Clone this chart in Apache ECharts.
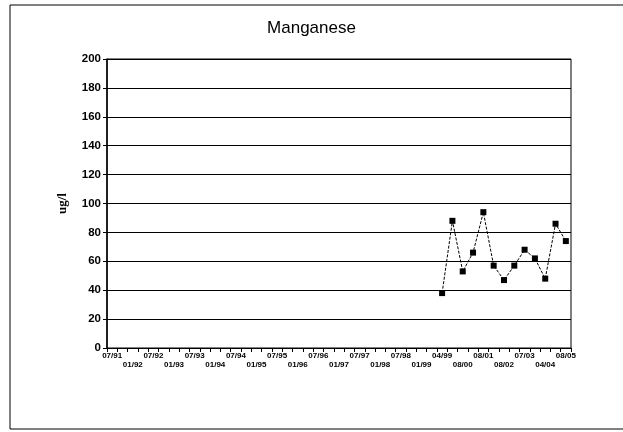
<!DOCTYPE html>
<html>
<head>
<meta charset="utf-8">
<script src="https://cdn.jsdelivr.net/npm/echarts@6/dist/echarts.min.js"></script>
<style>html,body{margin:0;padding:0;background:#fff}#c{width:623px;height:432px}</style>
</head>
<body>
<div id="c"></div>
<script>
const categories = ["07/91","10/91","01/92","04/92","07/92","10/92","01/93","04/93","07/93","10/93",
  "01/94","04/94","07/94","10/94","01/95","04/95","07/95","10/95","01/96","04/96",
  "07/96","10/96","01/97","04/97","07/97","10/97","01/98","04/98","07/98","10/98",
  "01/99","02/99","04/99","01/00","08/00","02/01","08/01","02/02","08/02","01/03",
  "07/03","11/03","04/04","12/04","08/05"];
const manganese = [null,null,null,null,null,null,null,null,null,null,
  null,null,null,null,null,null,null,null,null,null,
  null,null,null,null,null,null,null,null,null,null,
  null,null,38,88,53,66,94,57,47,57,
  68,62,48,86,74];
const yTicks = {min:0, max:200, interval:20};

const chart = echarts.init(document.getElementById('c'), null, {renderer:'canvas'});
chart.setOption({
  animation:false,
  backgroundColor:'#fff',
  title:{text:'Manganese', left:'center', top:15,
    textStyle:{fontFamily:'Liberation Sans, Arial', fontSize:17, fontWeight:'normal', color:'#000'}},
  graphic:[{type:'rect', shape:{x:10,y:5,width:620,height:424}, style:{fill:'none', stroke:'#000', lineWidth:1}}],
  grid:{left:107, right:52, top:59, bottom:84, show:true, borderColor:'#000', borderWidth:1},
  xAxis:{type:'category', data:categories, boundaryGap:true,
    axisLine:{show:true, lineStyle:{color:'#000', width:1}},
    axisTick:{show:true, interval:0, length:4, lineStyle:{color:'#000', width:1}},
    axisLabel:{interval:1, hideOverlap:false,
      color:'#000', fontFamily:'Liberation Sans, Arial', fontSize:8, fontWeight:'bold',
      margin:3, lineHeight:9,
      formatter:(v,i)=> (i%4===2 ? '\n'+v : v)},
    splitLine:{show:false}},
  yAxis:{type:'value', min:yTicks.min, max:yTicks.max, interval:yTicks.interval,
    name:'ug/l', nameLocation:'middle', nameGap:38, nameRotate:90,
    nameTextStyle:{fontFamily:'Liberation Serif, Times New Roman', fontSize:13, fontWeight:'bold', color:'#000'},
    axisLine:{show:true, lineStyle:{color:'#000', width:1.5}},
    axisTick:{show:true, length:4, lineStyle:{color:'#000'}},
    axisLabel:{color:'#000', fontFamily:'Liberation Sans, Arial', fontSize:11.5, fontWeight:'bold', margin:6},
    splitLine:{lineStyle:{color:'#000', width:1}}},
  series:[{type:'line', data:manganese, connectNulls:false,
    symbol:'rect', symbolSize:6,
    itemStyle:{color:'#000'},
    lineStyle:{color:'#000', width:1, type:[3,1.5]}}]
});
</script>
</body>
</html>
